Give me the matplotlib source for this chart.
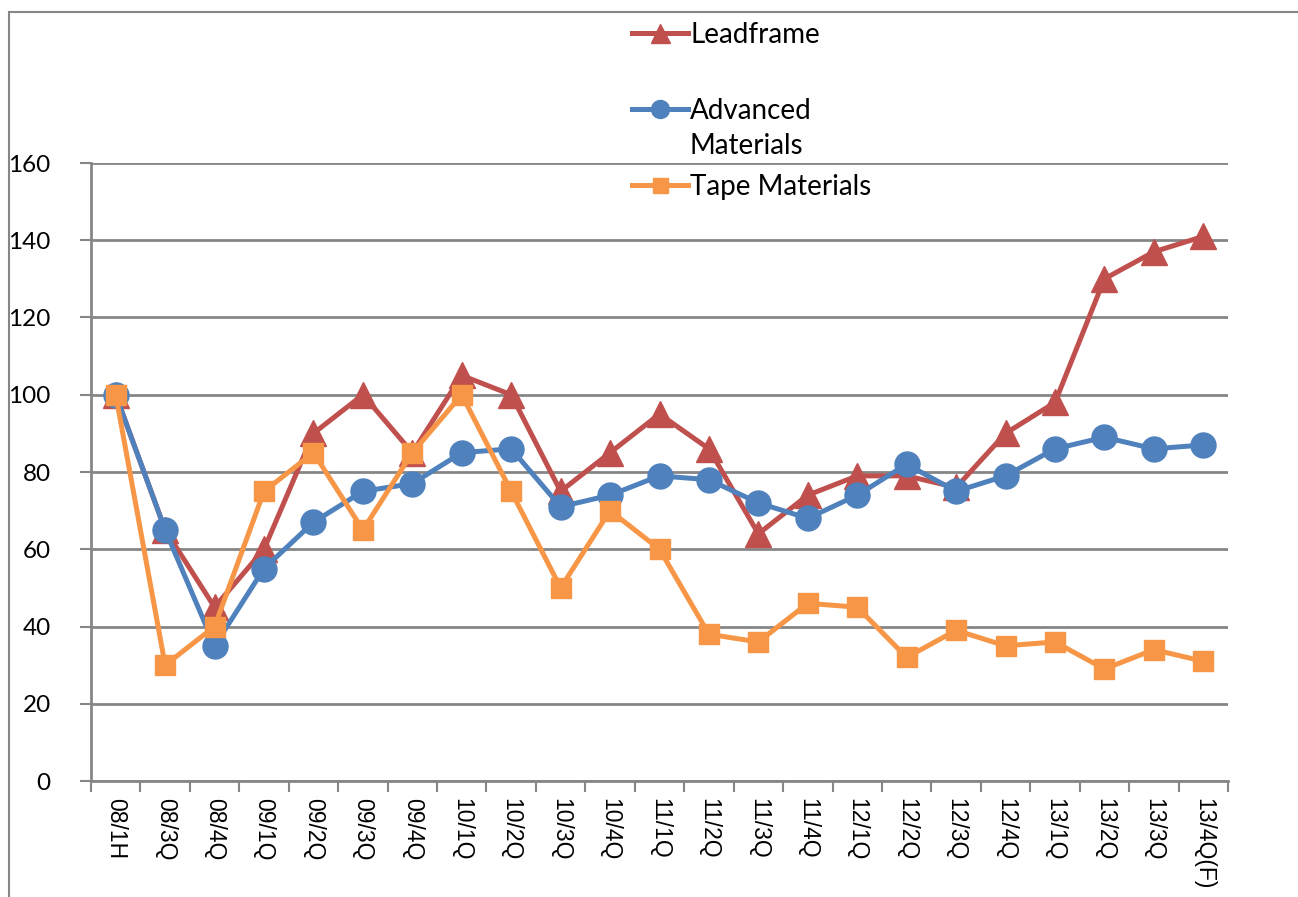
import matplotlib
matplotlib.use("Agg")
import matplotlib.pyplot as plt
from matplotlib.patches import Rectangle

# ── Data ──────────────────────────────────────────────────────────────────────
periods = ["08/1H", "08/3Q", "08/4Q",
           "09/1Q", "09/2Q", "09/3Q", "09/4Q",
           "10/1Q", "10/2Q", "10/3Q", "10/4Q",
           "11/1Q", "11/2Q", "11/3Q", "11/4Q",
           "12/1Q", "12/2Q", "12/3Q", "12/4Q",
           "13/1Q", "13/2Q", "13/3Q", "13/4Q(F)"]

leadframe = [100, 65, 45, 60, 90, 100, 85, 105, 100, 75, 85, 95, 86,
             64, 74, 79, 79, 76, 90, 98, 130, 137, 141]
advanced  = [100, 65, 35, 55, 67, 75, 77, 85, 86, 71, 74, 79, 78,
             72, 68, 74, 82, 75, 79, 86, 89, 86, 87]
tape      = [100, 30, 40, 75, 85, 65, 85, 100, 75, 50, 70, 60, 38,
             36, 46, 45, 32, 39, 35, 36, 29, 34, 31]

y_ticks = [0, 20, 40, 60, 80, 100, 120, 140, 160]

RED, BLUE, ORANGE = "#C0504D", "#4F81BD", "#F79646"
GRID = "#868686"

# ── Figure ────────────────────────────────────────────────────────────────────
W, H = 1298, 897
fig = plt.figure(figsize=(W / 100, H / 100), dpi=100)
ax = fig.add_axes([91 / W, 1 - 781 / H, (1228 - 91) / W, (781 - 163) / H])

# chart frame (cropped Excel chart border)
fig.patches.append(Rectangle((9 / W, -0.1), 1.2, 1 - 12 / H + 0.1,
                             transform=fig.transFigure, fill=False,
                             edgecolor=GRID, lw=1.5))

x = range(len(periods))
lw = 3.6
h1, = ax.plot(x, leadframe, color=RED, lw=lw, marker="^", ms=19,
              mec=RED, mfc=RED, label="Leadframe", clip_on=False)
h2, = ax.plot(x, advanced, color=BLUE, lw=lw, marker="o", ms=18,
              mec=BLUE, mfc=BLUE, label="Advanced", clip_on=False)
h3, = ax.plot(x, tape, color=ORANGE, lw=lw, marker="s", ms=15,
              mec=ORANGE, mfc=ORANGE, label="Tape Materials", clip_on=False)

ax.set_xlim(-0.5, len(periods) - 0.5)
ax.set_ylim(0, 160)

ax.set_yticks(y_ticks)
ax.set_yticklabels([str(v) for v in y_ticks], fontfamily="Lato", fontsize=17.5)
ax.yaxis.grid(True, color=GRID, lw=2)
ax.set_axisbelow(True)
ax.tick_params(axis="y", length=8, width=1.5, color=GRID, pad=21)

ax.set_xticks(list(x))
ax.set_xticklabels(periods, rotation=270, fontfamily="Liberation Sans",
                   fontsize=16.5, va="top", ha="center")
ax.set_xticks([i - 0.5 for i in range(len(periods) + 1)], minor=True)
ax.tick_params(axis="x", which="major", length=0, pad=12)
ax.tick_params(axis="x", which="minor", length=8, width=1.5, color=GRID)

for s in ("top", "right"):
    ax.spines[s].set_visible(False)
for s in ("left", "bottom"):
    ax.spines[s].set_color(GRID)
    ax.spines[s].set_linewidth(2)

# legend (Excel wraps "Advanced Materials" onto two lines)
leg = fig.legend(handles=[h1, h2, h3], loc="upper left",
                 bbox_to_anchor=(632 / W, 1 - 22 / H),
                 frameon=False, prop={"family": "Lato", "size": 20},
                 handlelength=2.0, handletextpad=0.1, labelspacing=1.8,
                 markerscale=0.72, borderaxespad=0, borderpad=0)
fig.text(690 / W, 1 - 146 / H, "Materials", fontfamily="Lato", fontsize=20,
         va="center", ha="left")

fig.savefig("out.png", dpi=100)
